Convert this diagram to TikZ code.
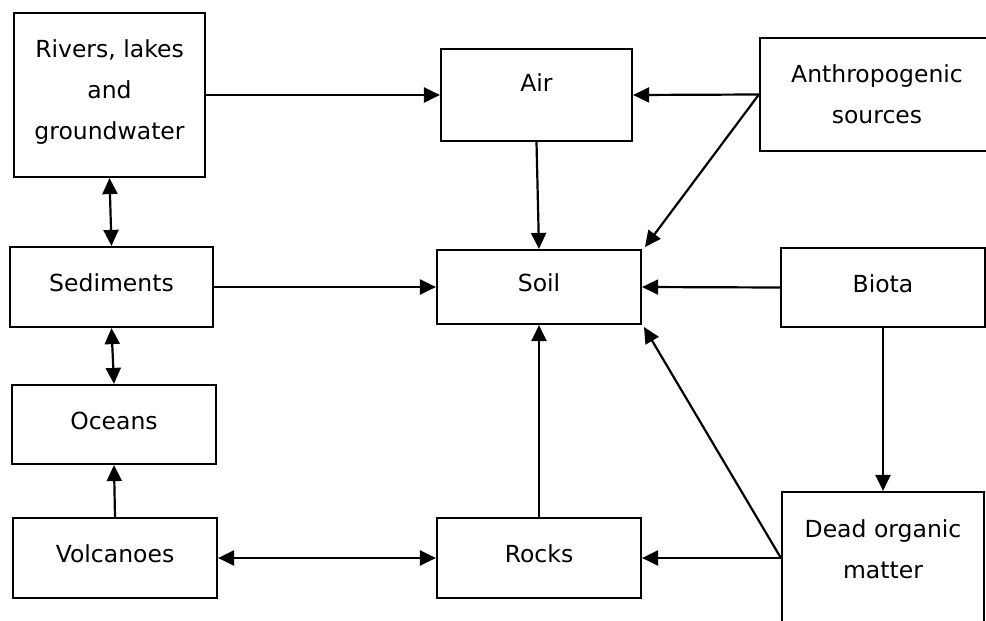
\documentclass[tikz,border=0pt]{standalone}
\usepackage{fontspec}
\setmainfont{DejaVu Sans}
\usetikzlibrary{arrows.meta,calc}
\begin{document}
\begin{tikzpicture}[x=1pt,y=-1pt,
  every node/.style={font=\fontsize{23.5}{41}\selectfont},
  box/.style={draw, line width=2.2pt, inner sep=0pt},
  oneline/.style={text height=17pt, text depth=8pt},
  tip/.tip={Triangle[length=16pt,width=15pt]},
  arr/.style={line width=2.2pt, -tip},
  darr/.style={line width=2.2pt, tip-tip}]
\useasboundingbox (0,0) rectangle (986,621);
\clip (0,0) rectangle (986,621);
% boxes
\node[box, align=center, minimum width=191pt, minimum height=164pt] (riv) at (109.5,95)
  {Rivers, lakes\\and\\groundwater\rule[-11pt]{0pt}{11pt}};
\node[box, oneline, text depth=24pt, minimum width=191pt, minimum height=92pt] (air) at (536.5,95) {Air};
\node[box, align=center, minimum width=234pt, minimum height=113pt] (anth) at (877,94.5) {Anthropogenic\\sources};
\node[box, oneline, minimum width=204pt, minimum height=74pt] (soil) at (539,287) {Soil};
\node[box, oneline, minimum width=204pt, minimum height=79pt] (biota) at (883,287.5) {Biota};
\node[box, oneline, minimum width=203pt, minimum height=80pt] (sed) at (111.5,287) {Sediments};
\node[box, oneline, minimum width=204pt, minimum height=79pt] (oce) at (114,424.5) {Oceans};
\node[box, oneline, minimum width=204pt, minimum height=80pt] (vol) at (115,558) {Volcanoes};
\node[box, oneline, minimum width=204pt, minimum height=80pt] (rock) at (539,558) {Rocks};
\node[box, minimum width=202pt, minimum height=168pt] (dead) at (883,576) {};
\node[align=center] (deadtxt) at (883,549) {Dead organic\\matter};
% helper coordinates
\coordinate (soilNE) at (645,247);
\coordinate (soilSE) at (644,327);
\coordinate (deadW) at (dead.west |- rock.east);
% connectors
\draw[arr] (riv.east) -- (air.west);
\draw[arr] (anth.west) -- (air.east);
\draw[arr] (anth.west) -- (soilNE);
\draw[arr] (air.south) -- (soil.north);
\draw[darr] (riv.south) -- (sed.north);
\draw[arr] (sed.east) -- (soil.west);
\draw[arr] (biota.west) -- (soil.east);
\draw[darr] (sed.south) -- (oce.north);
\draw[arr] (vol.north) -- (oce.south);
\draw[darr] (vol.east) -- (rock.west);
\draw[arr] (rock.north) -- (soil.south);
\draw[arr] (biota.south) -- (dead.north);
\draw[arr] (deadW) -- (rock.east);
\draw[arr] (deadW) -- (soilSE);
\end{tikzpicture}
\end{document}
